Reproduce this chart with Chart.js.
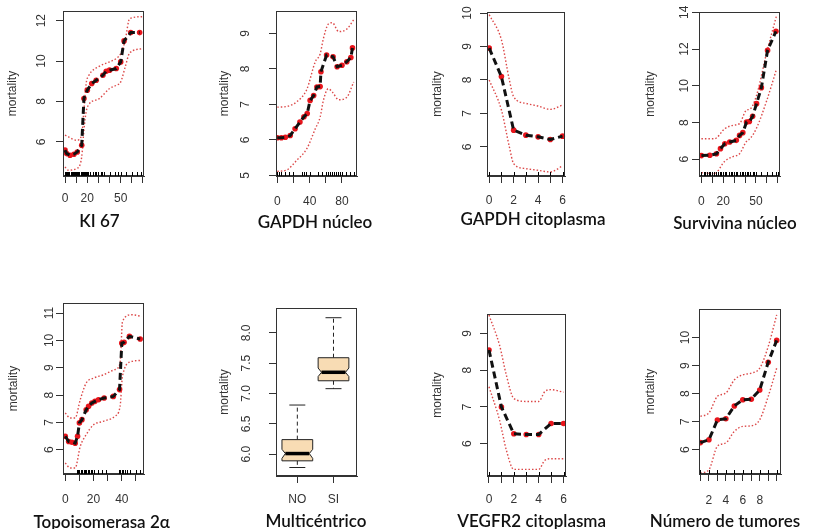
<!DOCTYPE html>
<html>
<head>
<meta charset="utf-8">
<script src="https://cdn.jsdelivr.net/npm/chart.js@4.4.1/dist/chart.umd.min.js"></script>
<style>
html, body { margin: 0; padding: 0; background: #fff; }
body { width: 813px; height: 529px; position: relative; overflow: hidden; }
canvas { position: absolute; }
.ttl { position: absolute; font-family: Lato, "Open Sans", sans-serif; font-size: 17px; font-weight: 600; color: #111;
       white-space: nowrap; transform: translate(-50%, -50%); }
</style>
</head>
<body>
<script>
// ---- KI 67
const ki67X = [0, 1.5, 4.5, 8, 11, 15, 17, 20, 24, 28, 34, 37, 40, 46, 50, 53, 59, 67];
const ki67Fit = [5.59, 5.42, 5.34, 5.39, 5.5, 5.83, 8.15, 8.56, 8.89, 9.05, 9.3, 9.5, 9.55, 9.63, 9.96, 11.0, 11.41, 11.41];
const ki67BandX = [0, 3, 10.5, 15, 17, 19, 21, 31, 40, 46, 50, 54, 58, 70];
const ki67Hi = [6.33, 6.25, 6.08, 6.33, 7.6, 8.9, 9.25, 9.75, 9.96, 10.13, 10.37, 11.03, 12.1, 12.2];
const ki67Lo = [4.76, 4.6, 4.68, 5.26, 6.6, 7.5, 7.82, 8.15, 8.64, 8.8, 8.97, 9.7, 10.4, 10.62];
const ki67Rug = [0, 1, 2, 3, 4, 5, 6, 7, 8, 9, 10, 11, 12, 13, 14, 15, 16, 17, 18, 19, 20, 21, 22, 25, 27, 28, 30, 32, 33, 35, 40, 45, 48, 50, 55, 60, 65, 68];
const ki67XTicks = [0, 10, 20, 30, 40, 50, 60, 70];
const ki67XLabels = ['0', '', '20', '', '', '50', '', ''];
const ki67YTicks = [6, 8, 10, 12];

// ---- GAPDH núcleo
const gapNX = [0, 5, 10, 16, 22, 28, 33, 37, 40.6, 45, 49, 53, 54, 61, 69, 74, 80, 86, 91, 93];
const gapNFit = [6.06, 6.06, 6.07, 6.12, 6.31, 6.5, 6.65, 6.74, 7.11, 7.25, 7.49, 7.5, 7.92, 8.39, 8.34, 8.06, 8.1, 8.2, 8.32, 8.59];
const gapNBandX = [0, 11.6, 24, 36.5, 47, 53, 57, 63, 68, 76, 86, 94.5];
const gapNHi = [6.92, 6.94, 7.07, 7.42, 8.2, 8.42, 8.85, 9.26, 9.3, 9.05, 9.12, 9.38];
const gapNLo = [5.11, 5.15, 5.42, 5.75, 6.31, 6.64, 7.11, 7.44, 7.35, 7.13, 7.2, 7.63];
const gapNRug = [0, 2, 5, 10, 15, 20, 30, 33, 35, 40, 50, 55, 60, 63, 65, 68, 70, 73, 75, 78, 80, 85, 90, 95];
const gapNXTicks = [0, 20, 40, 60, 80];
const gapNXLabels = ['0', '', '40', '', '80'];
const gapNYTicks = [5, 6, 7, 8, 9];

// ---- GAPDH citoplasma
const gapCX = [0, 1, 2, 3, 4, 5, 6];
const gapCFit = [8.95, 8.1, 6.5, 6.35, 6.3, 6.22, 6.32];
const gapCBandX = [0, 1, 1.65, 2, 3, 4, 5, 6];
const gapCHi = [9.95, 9.2, 8.0, 7.5, 7.3, 7.22, 7.12, 7.25];
const gapCLo = [8.0, 7.1, 6.0, 5.5, 5.35, 5.3, 5.25, 5.43];
const gapCRug = [0, 1, 2, 3, 4, 5, 6];
const gapCXTicks = [0, 1, 2, 3, 4, 5, 6];
const gapCXLabels = ['0', '', '2', '', '4', '', '6'];
const gapCYTicks = [6, 7, 8, 9, 10];

// ---- Survivina núcleo
const survX = [0, 7.7, 13.8, 17.5, 21.5, 26, 32, 35, 38, 41.4, 44, 47, 50.6, 55, 60.7, 68.4];
const survFit = [6.2, 6.22, 6.3, 6.58, 6.85, 6.94, 7.03, 7.3, 7.45, 8.03, 8.06, 8.34, 9.03, 9.9, 11.93, 12.97];
const survBandX = [0, 12, 21.5, 29, 35, 41, 45, 50.6, 60, 69];
const survHi = [7.12, 7.12, 7.67, 7.85, 7.94, 8.66, 8.75, 9.48, 11.84, 13.84];
const survLo = [5.27, 5.22, 5.9, 6.15, 6.3, 6.95, 7.15, 7.7, 9.21, 10.93];
const survRug = [0, 2, 3, 5, 7, 8, 10, 12, 13, 15, 17, 18, 20, 22, 23, 25, 27, 28, 30, 32, 33, 35, 37, 38, 40, 42, 43, 45, 47, 48, 50, 55, 60, 65, 68, 70];
const survXTicks = [0, 10, 20, 30, 40, 50, 60, 70];
const survXLabels = ['0', '', '20', '', '', '50', '', ''];
const survYTicks = [6, 8, 10, 12, 14];

// ---- Topoisomerasa 2α
const topoX = [0, 2.4, 4.7, 7, 8.7, 10, 11.8, 14.8, 16.5, 18.8, 21, 23.5, 27.5, 34, 38.4, 40, 41.6, 45.4, 53];
const topoFit = [6.49, 6.3, 6.27, 6.24, 6.49, 6.98, 7.1, 7.46, 7.59, 7.71, 7.77, 7.83, 7.89, 7.95, 8.2, 9.9, 9.93, 10.15, 10.05];
const topoBandX = [0, 3.5, 7, 10.6, 14.8, 20, 27, 35, 38.8, 40.5, 47, 54];
const topoHi = [7.34, 7.16, 7.16, 7.83, 8.44, 8.62, 8.74, 8.93, 9.17, 10.7, 10.94, 10.88];
const topoLo = [5.51, 5.33, 5.33, 6.12, 6.55, 6.91, 7.04, 7.22, 7.59, 8.7, 9.23, 9.27];
const topoRug = [8, 9, 10, 11, 12, 13, 14, 15, 16, 17, 18, 19, 20, 23, 26, 29, 38, 39, 40, 41, 42, 44, 46, 50, 53];
const topoXTicks = [0, 10, 20, 30, 40, 50];
const topoXLabels = ['0', '', '20', '', '40', ''];
const topoYTicks = [6, 7, 8, 9, 10, 11];

// ---- Multicéntrico (boxplot)
const multiCats = ['NO', 'SI'];
const multiMin = [5.78, 7.08];
const multiQ1 = [5.89, 7.21];
const multiNotchLo = [5.93, 7.28];
const multiMed = [6.01, 7.35];
const multiNotchHi = [6.08, 7.42];
const multiQ3 = [6.24, 7.59];
const multiMax = [6.81, 8.25];
const multiYTicks = [6.0, 6.5, 7.0, 7.5, 8.0];

// ---- VEGFR2 citoplasma
const vegX = [0, 1, 2, 3, 4, 5, 6];
const vegFit = [8.55, 7.0, 6.27, 6.25, 6.25, 6.55, 6.55];
const vegBandX = [0, 0.85, 1.4, 2, 3, 4, 4.5, 5, 6];
const vegHi = [9.5, 8.68, 7.86, 7.23, 7.15, 7.15, 7.42, 7.47, 7.4];
const vegLo = [7.55, 6.64, 5.82, 5.3, 5.3, 5.3, 5.55, 5.59, 5.59];
const vegRug = [0, 1, 2, 3, 4, 5, 6];
const vegXTicks = [0, 1, 2, 3, 4, 5, 6];
const vegXLabels = ['0', '', '2', '', '4', '', '6'];
const vegYTicks = [6, 7, 8, 9];

// ---- Número de tumores
const tumX = [1, 2, 3, 4, 5, 6, 7, 8, 9, 10];
const tumFit = [6.25, 6.35, 7.06, 7.1, 7.56, 7.78, 7.8, 8.13, 9.12, 9.9];
const tumHi = [7.19, 7.31, 7.9, 8.02, 8.49, 8.67, 8.73, 8.91, 9.68, 10.81];
const tumLo = [5.16, 5.28, 6.12, 6.24, 6.65, 6.83, 6.85, 7.07, 7.9, 8.91];
const tumRug = [1, 2, 3, 4, 5, 6, 7, 8, 9, 10];
const tumXTicks = [1, 2, 3, 4, 5, 6, 7, 8, 9, 10];
const tumXLabels = ['', '2', '', '4', '', '6', '', '8', '', ''];
const tumYTicks = [6, 7, 8, 9, 10];

// layout: box = plot region [left, top, right, bottom] in page pixels
const panels = [
  { title: 'KI 67', box: [63, 11, 144, 176], tc: [99.5, 220], xr: [-1.8, 70.9], yr: [4.31, 12.48],
    xT: ki67XTicks, xL: ki67XLabels, yT: ki67YTicks, dec: 0, yOff: 21, mOff: 50, xOff: 23,
    x: ki67X, fit: ki67Fit, bx: ki67BandX, hi: ki67Hi, lo: ki67Lo, rug: ki67Rug },
  { title: 'GAPDH núcleo', box: [276, 11, 357, 176], tc: [315, 221], xr: [-1.6, 98.6], yr: [4.98, 9.63],
    xT: gapNXTicks, xL: gapNXLabels, yT: gapNYTicks, dec: 0, yOff: 30, mOff: 51, xOff: 26,
    x: gapNX, fit: gapNFit, bx: gapNBandX, hi: gapNHi, lo: gapNLo, rug: gapNRug },
  { title: 'GAPDH citoplasma', box: [487, 12, 567, 176], tc: [533, 218], xr: [-0.18, 6.22], yr: [5.13, 10.03],
    xT: gapCXTicks, xL: gapCXLabels, yT: gapCYTicks, dec: 0, yOff: 19, mOff: 49, xOff: 25,
    x: gapCX, fit: gapCFit, bx: gapCBandX, hi: gapCHi, lo: gapCLo, rug: gapCRug },
  { title: 'Survivina núcleo', box: [699, 12, 780, 176], tc: [735, 222], xr: [-2.2, 72.1], yr: [5.09, 14.02],
    xT: survXTicks, xL: survXLabels, yT: survYTicks, dec: 0, yOff: 14, mOff: 48, xOff: 26,
    x: survX, fit: survFit, bx: survBandX, hi: survHi, lo: survLo, rug: survRug },
  { title: 'Topoisomerasa 2α', box: [63, 303, 144, 474], tc: [101.7, 521], xr: [-1.6, 55.7], yr: [5.11, 11.37],
    xT: topoXTicks, xL: topoXLabels, yT: topoYTicks, dec: 0, yOff: 13, mOff: 49, xOff: 26,
    x: topoX, fit: topoFit, bx: topoBandX, hi: topoHi, lo: topoLo, rug: topoRug },
  { title: 'Multicéntrico', box: [276, 308, 357, 476], tc: [316, 520], xr: [0.41, 2.65], yr: [5.64, 8.41],
    xT: [1, 2], xL: multiCats, yT: multiYTicks, dec: 1, yOff: 29, mOff: 51, xOff: 24, boxplot: true },
  { title: 'VEGFR2 citoplasma', box: [487, 314, 567, 476], tc: [531.7, 520], xr: [-0.16, 6.2], yr: [5.12, 9.53],
    xT: vegXTicks, xL: vegXLabels, yT: vegYTicks, dec: 0, yOff: 19, mOff: 49, xOff: 24,
    x: vegX, fit: vegFit, bx: vegBandX, hi: vegHi, lo: vegLo, rug: vegRug },
  { title: 'Número de tumores', box: [699, 309, 781, 474], tc: [725, 520], xr: [0.83, 10.51], yr: [5.13, 11.02],
    xT: tumXTicks, xL: tumXLabels, yT: tumYTicks, dec: 0, yOff: 13, mOff: 48, xOff: 27,
    x: tumX, fit: tumFit, bx: tumX, hi: tumHi, lo: tumLo, rug: tumRug }
];

const Y_W = 62, X_H = 40, PAD_T = 12, PAD_R = 10, TICK = 7;
const fontFam = "'Liberation Sans', Arial, sans-serif";
const tickFont = '12px ' + fontFam;
const bandColor = 'rgba(214, 40, 40, 0.85)';

function pts(xs, ys) {
  return xs.map((x, i) => ({ x: x, y: ys[i] }));
}

function drawBoxes(chart) {
  const ctx = chart.ctx, x = chart.scales.x, y = chart.scales.y;
  const hw = x.getPixelForValue(1.425) - x.getPixelForValue(1);
  const inset = hw * 0.22;
  ctx.save();
  multiCats.forEach((c, i) => {
    const cx = x.getPixelForValue(i + 1);
    const q1 = y.getPixelForValue(multiQ1[i]), q3 = y.getPixelForValue(multiQ3[i]);
    const nl = y.getPixelForValue(multiNotchLo[i]), nh = y.getPixelForValue(multiNotchHi[i]);
    const md = y.getPixelForValue(multiMed[i]);
    const lo = y.getPixelForValue(multiMin[i]), hi = y.getPixelForValue(multiMax[i]);
    // whiskers
    ctx.strokeStyle = '#222';
    ctx.lineWidth = 1;
    ctx.setLineDash([4, 3]);
    ctx.beginPath();
    ctx.moveTo(cx, q3); ctx.lineTo(cx, hi);
    ctx.moveTo(cx, q1); ctx.lineTo(cx, lo);
    ctx.stroke();
    ctx.setLineDash([]);
    ctx.beginPath();
    ctx.moveTo(cx - hw * 0.52, hi); ctx.lineTo(cx + hw * 0.52, hi);
    ctx.moveTo(cx - hw * 0.52, lo); ctx.lineTo(cx + hw * 0.52, lo);
    ctx.stroke();
    // notched box
    ctx.beginPath();
    ctx.moveTo(cx - hw, q3); ctx.lineTo(cx + hw, q3); ctx.lineTo(cx + hw, nh);
    ctx.lineTo(cx + hw - inset, md); ctx.lineTo(cx + hw, nl); ctx.lineTo(cx + hw, q1);
    ctx.lineTo(cx - hw, q1); ctx.lineTo(cx - hw, nl); ctx.lineTo(cx - hw + inset, md);
    ctx.lineTo(cx - hw, nh); ctx.closePath();
    ctx.fillStyle = '#F8DCB4';
    ctx.fill();
    ctx.stroke();
    // median
    ctx.lineWidth = 3.5;
    ctx.strokeStyle = '#000';
    ctx.beginPath();
    ctx.moveTo(cx - hw + inset, md); ctx.lineTo(cx + hw - inset, md);
    ctx.stroke();
  });
  ctx.restore();
}

panels.forEach(p => {
  const [L, T, R, B] = p.box;
  const cv = document.createElement('canvas');
  cv.width = (R - L) + Y_W + PAD_R;
  cv.height = (B - T) + PAD_T + X_H;
  cv.style.left = (L - Y_W) + 'px';
  cv.style.top = (T - PAD_T) + 'px';
  document.body.appendChild(cv);

  const ttl = document.createElement('div');
  ttl.className = 'ttl';
  ttl.textContent = p.title;
  ttl.style.left = p.tc[0] + 'px';
  ttl.style.top = p.tc[1] + 'px';
  document.body.appendChild(ttl);

  // frame, rotated y labels and rug, drawn from the chart's scales
  const rPlot = {
    id: 'rPlot',
    beforeDatasetsDraw(chart) {
      if (p.boxplot) drawBoxes(chart);
    },
    afterDraw(chart) {
      const ctx = chart.ctx, a = chart.chartArea, xs = chart.scales.x, ys = chart.scales.y;
      ctx.save();
      ctx.strokeStyle = '#333';
      ctx.lineWidth = 1;
      ctx.strokeRect(Math.round(a.left) + 0.5, Math.round(a.top) + 0.5,
                     Math.round(a.right - a.left) - 1, Math.round(a.bottom - a.top) - 1);
      ctx.font = tickFont;
      ctx.fillStyle = '#333';
      ctx.textAlign = 'center';
      ctx.textBaseline = 'middle';
      p.yT.forEach(v => {
        ctx.save();
        ctx.translate(a.left - p.yOff, ys.getPixelForValue(v));
        ctx.rotate(-Math.PI / 2);
        ctx.fillText(v.toFixed(p.dec), 0, 0);
        ctx.restore();
      });
      if (p.rug) {
        ctx.strokeStyle = '#000';
        ctx.beginPath();
        p.rug.forEach(v => {
          const px = Math.round(xs.getPixelForValue(v)) + 0.5;
          ctx.moveTo(px, a.bottom);
          ctx.lineTo(px, a.bottom - 4);
        });
        ctx.stroke();
      }
      ctx.restore();
    }
  };

  const datasets = p.boxplot ? [] : [
    { data: pts(p.x, p.fit), showLine: true, borderColor: '#111', borderWidth: 3,
      borderDash: [7, 4], pointRadius: 0, fill: false },
    { data: pts(p.x, p.fit), showLine: false, pointRadius: 2.8,
      pointBackgroundColor: '#e8141b', pointBorderWidth: 0 },
    { data: pts(p.bx, p.hi), showLine: true, borderColor: bandColor, borderWidth: 1.4,
      borderDash: [1.5, 2], pointRadius: 0, cubicInterpolationMode: 'monotone' },
    { data: pts(p.bx, p.lo), showLine: true, borderColor: bandColor, borderWidth: 1.4,
      borderDash: [1.5, 2], pointRadius: 0, cubicInterpolationMode: 'monotone' }
  ];

  new Chart(cv.getContext('2d'), {
    type: 'scatter',
    data: { datasets: datasets },
    options: {
      responsive: false,
      animation: false,
      devicePixelRatio: 1,
      layout: { padding: { top: PAD_T, right: PAD_R, left: 0, bottom: 0 } },
      plugins: { legend: { display: false }, tooltip: { enabled: false } },
      scales: {
        x: {
          type: 'linear', min: p.xr[0], max: p.xr[1],
          afterBuildTicks: s => { s.ticks = p.xT.map(v => ({ value: v })); },
          afterFit: s => { s.height = X_H; },
          ticks: {
            autoSkip: false, maxRotation: 0, minRotation: 0,
            font: { family: fontFam, size: 12 }, color: '#333',
            padding: p.xOff - TICK - 7.2,
            callback: (v, i) => p.xL[i]
          },
          grid: { drawOnChartArea: false, drawTicks: true, tickLength: TICK, color: '#333' },
          border: { display: true, color: '#333' }
        },
        y: {
          type: 'linear', min: p.yr[0], max: p.yr[1],
          afterBuildTicks: s => { s.ticks = p.yT.map(v => ({ value: v })); },
          afterFit: s => { s.width = Y_W; },
          ticks: { display: false },
          grid: { drawOnChartArea: false, drawTicks: true, tickLength: TICK, color: '#333' },
          border: { display: true, color: '#333' },
          title: {
            display: true, text: 'mortality', color: '#333',
            font: { family: fontFam, size: 12 },
            padding: { top: Y_W - p.mOff - 7.2, bottom: 0 }
          }
        }
      }
    },
    plugins: [rPlot]
  });
});
</script>
</body>
</html>
